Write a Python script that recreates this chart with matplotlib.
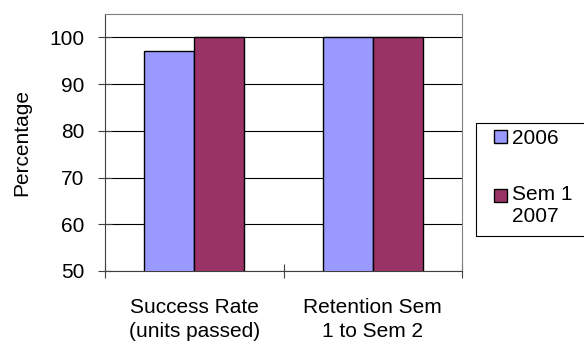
import numpy as np
import matplotlib.pyplot as plt
from matplotlib.patches import Patch, Rectangle

plt.rcParams['font.family'] = ['Liberation Sans', 'DejaVu Sans']
plt.rcParams['font.size'] = 15

categories = ["Success Rate\n(units passed)", "Retention Sem\n1 to Sem 2"]
series_names = ["2006", "Sem 1\n2007"]
values_2006 = [97, 100]
values_2007 = [100, 100]
colors = ["#9999FF", "#993366"]

W, H = 584, 341
fig = plt.figure(figsize=(W / 100, H / 100), dpi=100)
ax = fig.add_axes([105 / W, 1 - 271 / H, 357 / W, 257 / H])

x = np.arange(len(categories))
w = 0.28
ax.bar(x - w / 2, values_2006, w, color=colors[0], edgecolor="black", linewidth=1.0, zorder=3)
ax.bar(x + w / 2, values_2007, w, color=colors[1], edgecolor="black", linewidth=1.0, zorder=3)

ax.set_ylim(50, 105)
ax.set_yticks(np.arange(50, 101, 10))
ax.set_xlim(-0.5, len(categories) - 0.5)
ax.yaxis.grid(True, color="black", linewidth=0.8, zorder=0)

# category boundaries carry the x ticks, labels sit in between
ax.set_xticks(np.arange(-0.5, len(categories), 1.0))
ax.set_xticklabels([])
ax.set_xticks(x, minor=True)
ax.set_xticklabels(categories, minor=True, fontsize=15, linespacing=1.33)
ax.tick_params(axis="x", which="minor", length=0, pad=19.5)
ax.tick_params(axis="x", which="major", direction="inout", length=10, color="#404040")
ax.tick_params(axis="y", direction="inout", length=10, color="#404040", labelsize=15, pad=10)

for s in ["top", "right"]:
    ax.spines[s].set_color("#808080")
for s in ["left", "bottom"]:
    ax.spines[s].set_color("#404040")

ax.set_ylabel("Percentage", fontsize=15, labelpad=13)

# legend: frame drawn separately so it can run off the right edge
frame = Rectangle((476 / W, 1 - 236 / H), 120 / W, 113 / H, transform=fig.transFigure,
                  facecolor="white", edgecolor="black", linewidth=0.8, clip_on=False)
fig.add_artist(frame)
handles = [Patch(facecolor=c, edgecolor="black", linewidth=1.0) for c in colors]
leg = fig.legend(handles, series_names, loc="upper left",
                 bbox_to_anchor=(494 / W, 1 - 129 / H),
                 frameon=False, handlelength=0.62, handleheight=0.62, handletextpad=0.24,
                 labelspacing=1.8, borderpad=0, borderaxespad=0, fontsize=15)
leg.get_texts()[1].set_linespacing(1.17)
# put the second swatch level with the first line of its label
sw = leg.legend_handles[1]
sw.set_y(sw.get_y() + 7.5)

fig.savefig("out.png", dpi=100)
